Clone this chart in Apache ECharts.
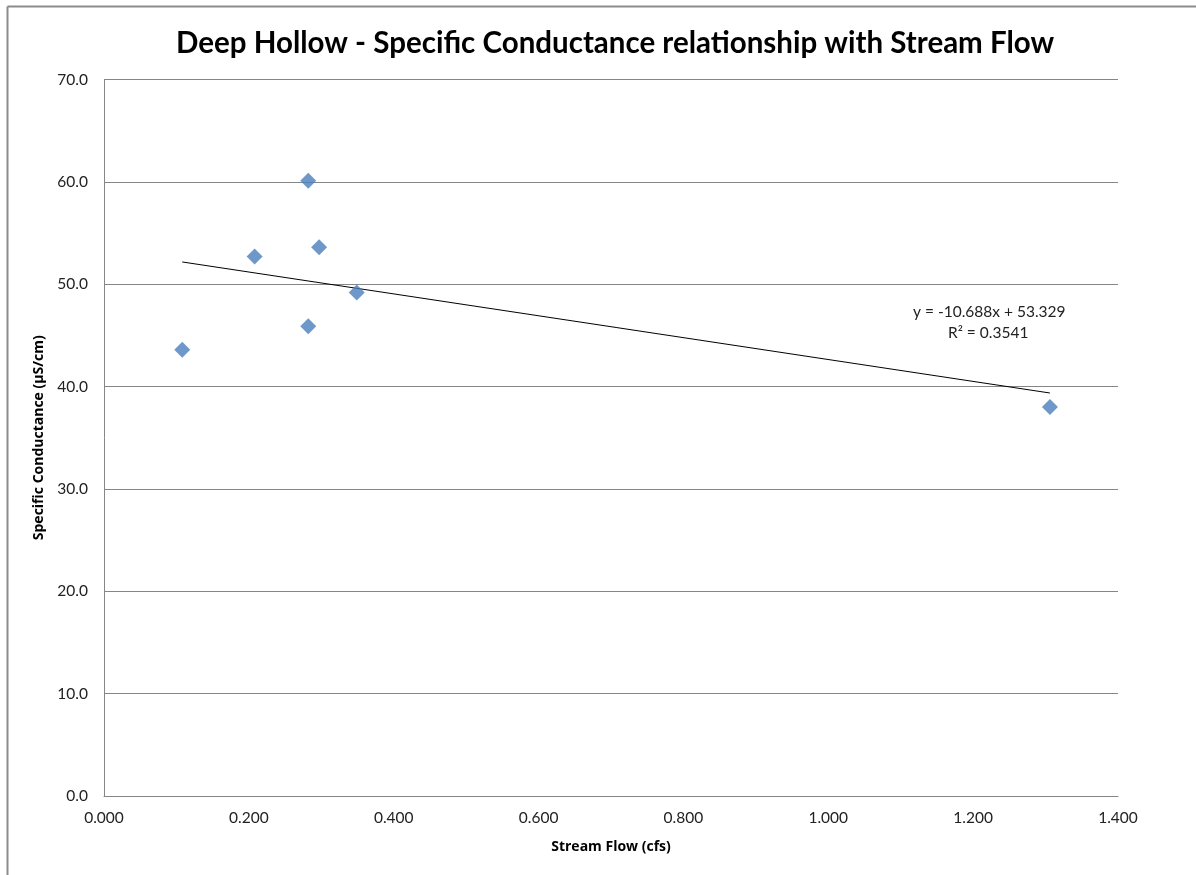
<!DOCTYPE html>
<html>
<head>
<meta charset="utf-8">
<script src="https://cdn.jsdelivr.net/npm/echarts@6/dist/echarts.min.js"></script>
<style>
html,body{margin:0;padding:0;background:#fff;}
#chart{width:1196px;height:875px;}
</style>
</head>
<body>
<div id="chart"></div>
<script>
// Data
var streamFlow = [0.108, 0.208, 0.282, 0.297, 0.282, 0.349, 1.306];
var conductance = [43.6, 52.7, 60.1, 53.6, 45.9, 49.2, 38.0];
var trendSlope = -10.688;
var trendIntercept = 53.329;
var trendR2 = 0.3541;
var xTicks = ['0.000','0.200','0.400','0.600','0.800','1.000','1.200','1.400'];
var yTicks = ['0.0','10.0','20.0','30.0','40.0','50.0','60.0','70.0'];

var FONT = 'Lato, "Open Sans", sans-serif';
var points = streamFlow.map(function (x, i) { return [x, conductance[i]]; });
var xMin = Math.min.apply(null, streamFlow), xMax = Math.max.apply(null, streamFlow);
var trend = [[xMin, trendSlope * xMin + trendIntercept], [xMax, trendSlope * xMax + trendIntercept]];

var chart = echarts.init(document.getElementById('chart'));
chart.setOption({
  backgroundColor: '#fff',
  animation: false,
  title: {
    text: 'Deep Hollow - Specific Conductance relationship with Stream Flow',
    left: 171, top: 23,
    textStyle: { fontFamily: FONT, fontSize: 29.5, fontWeight: 'bold', color: '#000' }
  },
  grid: { left: 104, right: 78, top: 79.5, bottom: 79 },
  xAxis: {
    type: 'value', min: 0, max: 1.4, interval: 0.2,
    name: 'Stream Flow (cfs)', nameLocation: 'middle', nameGap: 44,
    nameTextStyle: { fontFamily: '"Open Sans", sans-serif', fontSize: 14, fontWeight: 'bold', color: '#000' },
    axisLine: { show: true, lineStyle: { color: '#868686', width: 1 } },
    axisTick: { show: false },
    splitLine: { show: false },
    axisLabel: { margin: 14, fontFamily: FONT, fontSize: 15.5, color: '#222',
      formatter: function (v) { return xTicks[Math.round(v / 0.2)]; } }
  },
  yAxis: {
    type: 'value', min: 0, max: 70, interval: 10,
    name: 'Specific Conductance (µS/cm)', nameLocation: 'middle', nameGap: 58, nameRotate: 90,
    nameTextStyle: { fontFamily: '"Open Sans", sans-serif', fontSize: 14, fontWeight: 'bold', color: '#000' },
    axisLine: { show: true, lineStyle: { color: '#868686', width: 1 } },
    axisTick: { show: false },
    splitLine: { show: true, lineStyle: { color: '#868686', width: 1 } },
    axisLabel: { margin: 16, fontFamily: FONT, fontSize: 15.5, color: '#222',
      formatter: function (v) { return yTicks[Math.round(v / 10)]; } }
  },
  series: [
    {
      type: 'scatter', data: points, symbol: 'diamond', symbolSize: 16,
      itemStyle: { color: '#4a7ebb' }, z: 3
    },
    {
      type: 'line', data: trend, symbol: 'none',
      lineStyle: { color: '#000', width: 1 }, z: 2
    }
  ],
  graphic: [
    { type: 'line', shape: { x1: 7.5, y1: 6.5, x2: 1196, y2: 6.5 }, style: { stroke: '#8c8c8c', lineWidth: 2 } },
    { type: 'line', shape: { x1: 7.5, y1: 6.5, x2: 7.5, y2: 875 }, style: { stroke: '#8c8c8c', lineWidth: 2 } },
    { type: 'text', left: 913, top: 304,
      style: { text: 'y = -10.688x + 53.329', font: '15.5px ' + FONT, fill: '#222' } },
    { type: 'text', left: 948, top: 325,
      style: { text: 'R² = ' + trendR2, font: '15.5px ' + FONT, fill: '#222' } }
  ]
});
</script>
</body>
</html>
